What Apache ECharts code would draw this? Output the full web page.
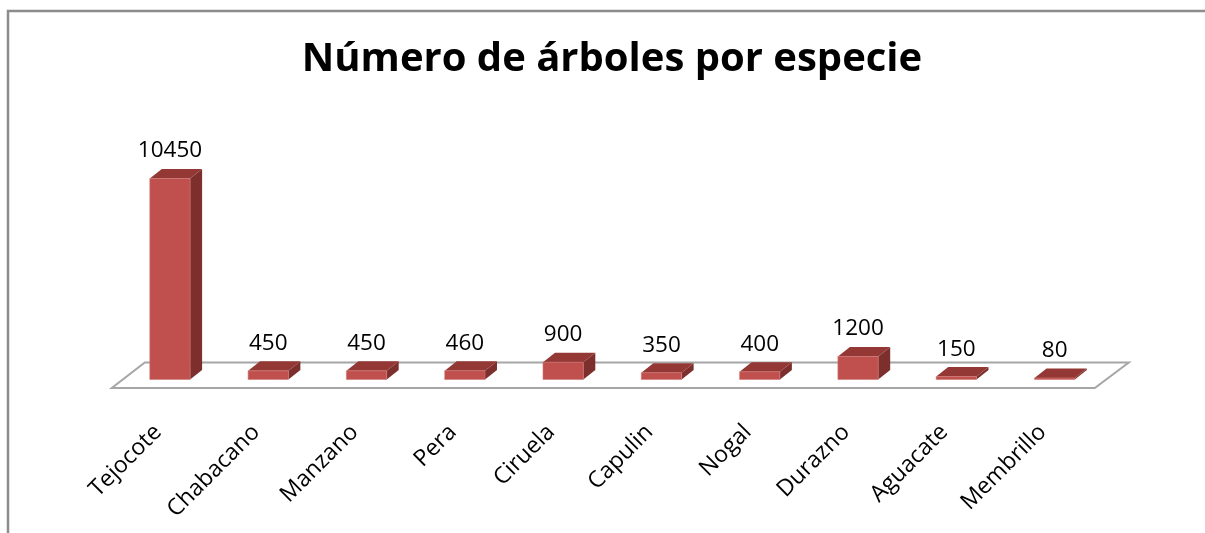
<!DOCTYPE html>
<html>
<head>
<meta charset="utf-8">
<script src="https://cdn.jsdelivr.net/npm/echarts@6/dist/echarts.min.js"></script>
<style>
html,body{margin:0;padding:0;background:#fff;}
#chart{width:1205px;height:533px;}
</style>
</head>
<body>
<div id="chart"></div>
<script>
const titleText = 'Número de árboles por especie';
const categories = ['Tejocote','Chabacano','Manzano','Pera','Ciruela','Capulin','Nogal','Durazno','Aguacate','Membrillo'];
const values = [10450, 450, 450, 460, 900, 350, 400, 1200, 150, 80];

const chart = echarts.init(document.getElementById('chart'), null, {renderer:'canvas'});

const FRONT = '#C0504D', SIDE = '#7D2F2D', TOP = '#943835';
const DX = 12, DY = -9.5;
const LABEL_FONT = '22.5px "Open Sans"';

function renderBar(params, api) {
  const idx = api.value(0);
  const v = api.value(1);
  const base = api.coord([idx, 0]);
  const top = api.coord([idx, v]);
  const bw = api.size([1, 0])[0] * 0.41;
  const xl = base[0] - bw / 2, xr = base[0] + bw / 2;
  const yb = base[1], yt = top[1];
  return {
    type: 'group',
    children: [
      { type: 'polygon', shape: { points: [[xr, yb], [xr + DX, yb + DY], [xr + DX, yt + DY], [xr, yt]] },
        style: { fill: SIDE } },
      { type: 'polygon', shape: { points: [[xl, yt], [xr, yt], [xr + DX, yt + DY], [xl + DX, yt + DY]] },
        style: { fill: TOP } },
      { type: 'rect', shape: { x: xl, y: yt, width: bw, height: yb - yt },
        style: { fill: FRONT, stroke: '#D27876', lineWidth: 0.6 } },
      { type: 'text', style: { text: String(v), x: base[0], y: yt - 27.5, align: 'center', verticalAlign: 'middle',
        font: LABEL_FONT, fill: '#000' } }
    ]
  };
}

function renderFloor(params, api) {
  const cs = params.coordSys;
  const yb = cs.y + cs.height;
  const l = cs.x, r = cs.x + cs.width;
  return {
    type: 'polygon',
    shape: { points: [[l - 9, yb + 8.5], [r - 9, yb + 8.5], [r + 25, yb - 17], [l + 24, yb - 17]] },
    style: { fill: '#fff', stroke: '#A6A6A6', lineWidth: 2 }
  };
}

const option = {
  backgroundColor: '#fff',
  animation: false,
  title: {
    text: titleText,
    left: 612, textAlign: 'center',
    top: 40, padding: 0,
    textStyle: { fontFamily: 'Open Sans', fontWeight: 'bold', fontSize: 40, lineHeight: 40, color: '#000' }
  },
  grid: { left: 120.8, width: 983, top: 148.7, bottom: 153.5, containLabel: false },
  xAxis: {
    type: 'category', data: categories,
    axisLine: { show: false }, axisTick: { show: false }, splitLine: { show: false },
    axisLabel: { interval: 0, rotate: 45, margin: 37, padding: [0, 17, 0, 0],
      fontFamily: 'Open Sans', fontSize: 23, color: '#000' }
  },
  yAxis: { type: 'value', min: 0, max: 12000, show: false, splitLine: { show: false } },
  graphic: [
    { type: 'polyline', shape: { points: [[1205, 11], [8, 11], [8, 533]] },
      style: { stroke: '#8C8C8C', lineWidth: 2.5, fill: null }, silent: true }
  ],
  series: [
    { type: 'custom', renderItem: renderFloor, data: [[0, 0]], z: 1, silent: true },
    { type: 'custom', renderItem: renderBar, data: categories.map((c, i) => [i, values[i]]),
      encode: { x: 0, y: 1 }, z: 2 }
  ]
};
chart.setOption(option);
</script>
</body>
</html>
